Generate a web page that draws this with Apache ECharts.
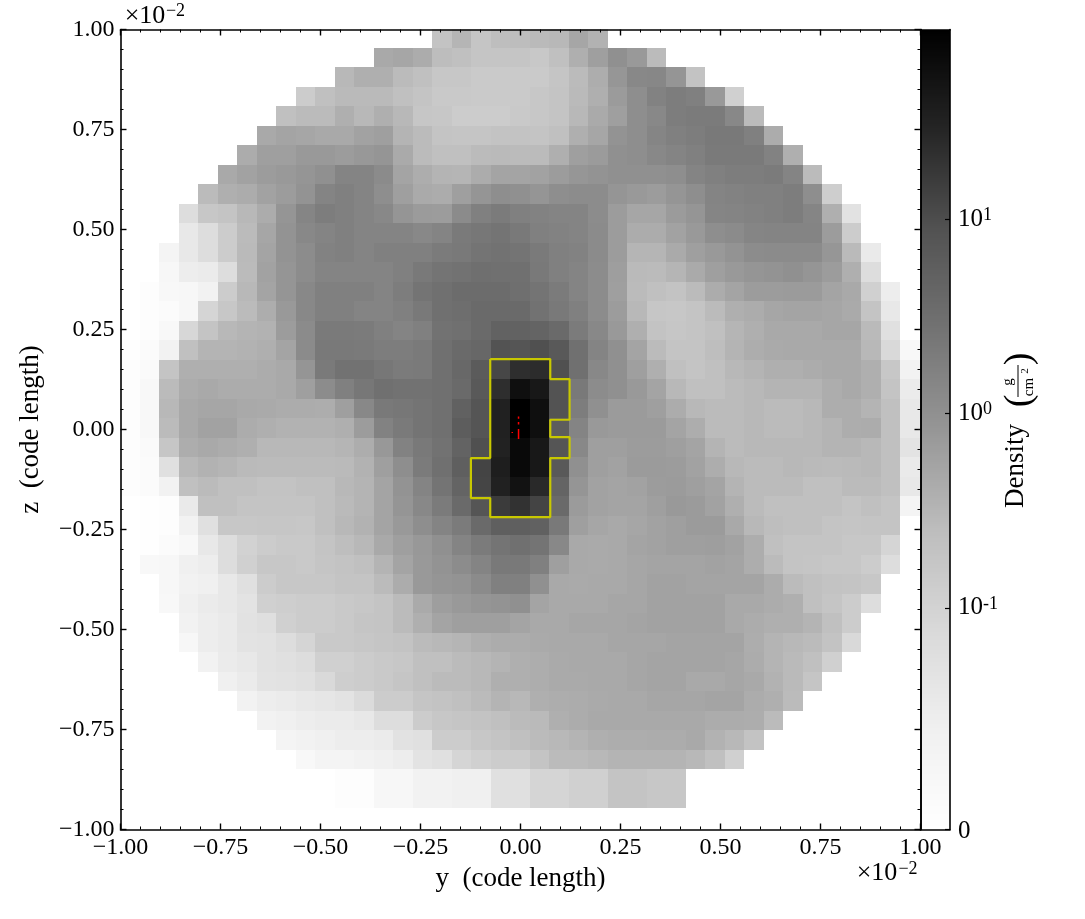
<!DOCTYPE html>
<html><head><meta charset="utf-8">
<style>html,body{margin:0;padding:0;background:#fff}#c{width:1085px;height:919px}</style>
<script src="https://cdn.jsdelivr.net/npm/echarts@6/dist/echarts.min.js"></script>
</head><body><div id="c"></div>
<script>
// rowStart[r] is the first column that holds data in row r (row 0 is the top one).
const rowStart = [16,13,11,9,8,7,6,5,4,3,3,2,2,1,1,1,0,0,0,0,0,0,0,0,0,1,1,1,2,2,3,3,4,5,6,7,8,9,11,11];
const rowValues = [
[35,40,34,37,37.5,38.5,39,45,41],
[44,45,43,37.5,36,34,34,34,32.6,36,42,47,52,49,38],
[39,42,42,38,36,33,33,31.5,31.5,31.5,31.5,34,38,42.5,50,55,55.5,50.5,35],
[31,36,38.5,38.5,38.5,36,34.5,32,32,31.5,31.5,31.5,33,34.5,38.5,42,48.5,53,57,59,58,49,29],
[36,38,38,42,39,42,39,33.5,33,31,31,31,32,33,34.5,39,43.5,47,53,55,59,59.5,59.5,55,38],
[44,45.5,45,44,44,46,47,40.5,38,34.5,34,34,35,35,34.5,36,42,45,51,53,56,58,59,60.5,60.5,58,43],
[43,47,47,49,49,48,49.5,50.5,43.5,38,36,36,38,38.5,38,38,42,47,48.5,52,53,55,56.5,58,60,60,60,57,42],
[44,46,48,49,50.5,52,56.5,56.5,54,45.5,42.5,40.5,40,43,45.5,45.5,46,48,50,51,52,52,52,53,56.5,58,59,59,59.5,56.5,38],
[38,42,43,46,48,51,56.5,58,56.5,53,47,43.5,43,47,50.5,53,52,50.5,53,53.5,53.5,50.5,49,48,50.5,53,56.5,57,58,58,59,53,30],
[23,33,34.5,39,43,50.5,56,59,58,56.5,55,50.5,48.5,48,54,58,59.5,58,57,56.5,56.5,53.5,48,45,45,48.5,50.5,56,56.5,57,58,59,56,42,20],
[17,23,31,38,45,51,55,56.5,58,56.5,56.5,56.5,55,56.5,60,61,62,60.5,58,57,56.5,54,48,43,43,46,49,53,54,56,56.5,56.5,56.5,48,31],
[9,17,23,31,38.5,45.5,51,53.5,57,58,56.5,58,58,58,59.5,60.5,62,63,62,60,58,57,54,48,40,40,43.5,47,49,51,53.5,54,54,54,50,38.5,16],
[7,14,15,23,38,46,50.5,53.5,56.5,56.5,56.5,56.5,58,60.5,62,63,64,63.5,63.5,60.5,58,56.5,53.5,47.5,38.5,38,40,43.5,47,49,50.5,51,52,50.5,48,42,23],
[2,6,7,11,31,39,45.5,50.5,55,58,58,58,56.5,59,62,63.5,65,65,65,64,62,59.5,56.5,53.5,47,38,36,35,38,43,45.5,48,48,48.5,48.5,45.5,44,29,14],
[2,3,7,27,33,38,42.5,49,55,58,58,56.5,56.5,58,60.5,63.5,64.5,66,66,66,63,60.5,58,53.5,48,39,33.5,33,34.5,38,42,43,45,45.5,45.5,45,43.5,34.5,17],
[2,6,26,34.5,39,40.5,41,48,54,60,60,59.5,58,56.5,58,63,63.5,66,69,69,68,66,59.5,55,49,42,35,33.5,34.5,36,40,42,44,44,44,45,45,38.5,21],
[1,3,11,36,40.5,40.5,41,42,45.5,54,60.5,60.5,60,59,59,60,63.5,66,67,74.5,74,75.5,72.5,63.5,56.5,52,45.5,38,34.5,34.5,37,40.5,42.5,43.5,44,44,44,44,39,25,6],
[2,4,34.5,42,42,42,42,43,44,50.5,60,63,63,61,59.5,60,63.5,66.5,71.5,78,85,85.5,75.5,63.5,55,52,47,42,36,34.5,36,39,40.5,42,42,43,44,44,42,33,11],
[2,6,38,43,44,43,43,43,44,47,53.5,58,61,63.5,63,63,63.5,66,72.5,85,95,92,74.5,60.5,53.5,52,49,45.5,39,36,36,38,39,40.5,40.5,40.5,42.5,44,42,34.5,15],
[2,6,39,44,45,45,44,43.5,43,43,42.5,47,55,60.5,61,62,63.5,69.5,74,89,100,95,74.5,59,52,48.5,48.5,47,43,39,38,38,39,38,38,39,42.5,42.5,40.5,36,17],
[2,6,38,44,46,46,43,42,41,41,41,42,48,57,60,62,63.5,71,74,89,100,95,71,56.5,49,48.5,48.5,48.5,45.5,42.5,38,38,39,38,38,39,40.5,42.5,43,36,17],
[2,4,33.5,42.5,44,43,42,39,39,39,39,40,42.5,49.5,57,60.5,63,68.5,75.5,88.5,97,92,74,55,47,47,48,48,47,45.5,40.5,38,39,39,39,39,40.5,40.5,39,36,19.5],
[2,3,21,39,41,40,38.5,38,38,38,38,38.5,41,47,53,59.5,63.5,70,79,90,97,92,72.5,52,47,46,48.5,48.5,48,46,42.5,39,38,38,39,38.5,38,38.5,39,36,16],
[2,3,11,36,38,36,36,35,35,36,36,39,40.5,45.5,51,56.5,62,68,78.5,89,94,86.5,68,50.5,46,45.5,46,48,48.5,47,45.5,40.5,38,38,38,36,36,38,38,36,17],
[0,1,2,16,36,36,34.5,34.5,34.5,34.5,36,38.5,40.5,45.5,50.5,55,59.5,66,74,81.5,84,79,66,48.5,46,45.5,45.5,47,49,48.5,46,42,38,36,36,36,36,34.5,36,34.5,9],
[1,2,11,21,33,33,33.5,33.5,33,36,39,41,45.5,49,53,56.5,59.5,66,70,70,69.5,60.5,47,45,44,45,46,47,48.5,48.5,44,39,37,36,36,34.5,34,34.5,34.5],
[1,3,6,17,23,28,31,32,32,34.5,37,39,44,47,49.5,52,56.5,59.5,62,63.5,62,55,44,43.5,44,45.5,46,47,47,47.5,46,42.5,36,34.5,34.5,34.5,33,33,27],
[6,7,12.5,14,23,29,33,33,32,34,35,36,40.5,45.5,49,51,53.5,56.5,60.5,60.5,58,47,44,43.5,44,45,45.5,45.5,45.5,46,45.5,42.5,38,34.5,34,33,33,31,23],
[7,11,12.5,17,21,31,33,33,33,34.5,34.5,38,43,49,50.5,51,54,58,58,52,44,43.5,44,44,45,46,46,45.5,45.5,45.5,45.5,43,38,36,35,34.5,33],
[6,12.5,15,17,19.5,29,30,31,31,32,33,34.5,38,43.5,47.5,49,50.5,51,52,45.5,44,44,44,45,45,46,46,46,46,44,44,43,42,36,34,31,23],
[11,14,16,20,22,29,31,31,32,34,34.5,38,42,45.5,47,47,47,45.5,44,44,45,45,45,45.5,46,46,46,46,44,43,42,42,40.5,36,31],
[7,14,16,19.5,20,23,27,32,32,33,34,35,38,39,40,42,43,43,43.5,44,44,44,45,45,45,45.5,45.5,45.5,45.5,42.5,40.5,39,38,35,25],
[11,15,17,20,21,23,29,29,31,32,33,36,36,38,39,40.5,42,42.5,43.5,44,44,44,45,45.5,45.5,45.5,45.5,45,43,40.5,38.5,36,29],
[12.5,15,19.5,20,21,25,30,31,32,34,36,38,38,39,42,42,42.5,43.5,43.5,44,44,45,45.5,45.5,44,44,45,44,41,38.5,34],
[11,14,15,17,18,19.5,24,31,31,34,35,36,38,40.5,39,42,42.5,43,43.5,44,44,45,45,45,45.5,45.5,43,42,38],
[11,12.5,14,15,15,17,23,23,31,33,34,35,36,38,38.5,42,43,44,44,44,44,44,44,43,43,42.5,38],
[9,11,12.5,14,14,15,20,21,31,31,33,34.5,36,38,39,40.5,42,42.5,42.5,43,43,44,41,39,35],
[6,9,9,11,12.5,14,19.5,21,27,29,31,31,34.5,38,38,39,40.5,40.5,40.5,40.5,39,36,29],
[2,2,7,7,11,11,12.5,12.5,21,21,27,27,29,29,34.5,34.5,33,33],
[2,2,7,7,11,11,12.5,12.5,21,21,27,27,29,29,34.5,34.5,33,33]
];
// Yellow clump outline and red particle marks, in units of 1e-2 code length
const clumpY = [-0.0757,0.0744,0.0744,0.1227,0.1227,0.0744,0.0744,0.1227,0.1227,0.0744,0.0744,-0.0757,-0.0757,-0.124,-0.124,-0.0757,-0.0757];
const clumpZ = [0.176,0.176,0.126,0.126,0.0244,0.0244,-0.0189,-0.0189,-0.0714,-0.0714,-0.219,-0.219,-0.1715,-0.1715,-0.0714,-0.0714,0.176];
const particleTracks = [
 [[-0.0049,0.0326],[-0.0049,0.0268]],
 [[-0.0049,0.0185],[-0.0049,0.0127]],
 [[-0.0049,0.0012],[-0.0049,-0.0238]],
 [[-0.0206,-0.0062],[-0.0206,-0.0088]]
];
const axisTicks = [-1,-0.75,-0.5,-0.25,0,0.25,0.5,0.75,1];
const colorbarTickDensity = [0,0.1,1,10];
const colorbarTickLabels = ['{z|0}','{b|10}{n|-1}','{b|10}{s|0}','{b|10}{s|1}'];
const greys = [255,240,217,189,150,115,82,37,0]; // colour map stops, evenly spaced

// mesh geometry, code length x 1e-2
const cellSpan = 0.04875, colEdge0 = -1.00125, rowEdge0 = 1.00325;
const FONT = '"Liberation Serif"';
function grey(pos){
  const t = Math.max(0,Math.min(1,pos/100))*(greys.length-1);
  const i = Math.min(greys.length-2,Math.floor(t));
  const g = Math.round(greys[i]+(greys[i+1]-greys[i])*(t-i));
  return 'rgb('+g+','+g+','+g+')';
}
function norm(d){ return d<=0.1 ? 277*d : 52+24.3*Math.log10(d); }

const cells = [];
rowValues.forEach((vals,r)=>vals.forEach((v,i)=>{
  const c = rowStart[r]+i;
  cells.push([colEdge0+c*cellSpan, rowEdge0-r*cellSpan, colEdge0+(c+1)*cellSpan, rowEdge0-(r+1)*cellSpan, v]);
}));
const barCells = [];
for(let p=0;p<400;p++) barCells.push([0,p/4,1,(p+1)/4,(p+0.5)/4]);

function rectItem(params,api){
  const a = api.coord([api.value(0),api.value(1)]), b = api.coord([api.value(2),api.value(3)]);
  const x0 = Math.round(Math.min(a[0],b[0])), x1 = Math.round(Math.max(a[0],b[0]));
  const y0 = Math.round(Math.min(a[1],b[1])), y1 = Math.round(Math.max(a[1],b[1]));
  return {type:'rect',shape:{x:x0,y:y0,width:x1-x0,height:y1-y0},style:{fill:grey(api.value(4))}};
}
const lineStyle = {color:'#000',width:1.6};
const tickFmt = v => (v<0?'\u2212':'')+Math.abs(v).toFixed(2);
const baseAxis = {
  type:'value',min:-1,max:1,interval:0.25,z:10,
  axisLine:{show:true,onZero:false,lineStyle},
  axisTick:{show:true,inside:true,length:6,lineStyle:{color:'#000',width:1.4}},
  minorTick:{show:true,splitNumber:5,length:3,lineStyle:{color:'#000',width:1}},
  splitLine:{show:false},minorSplitLine:{show:false}
};
const labelStyle = {show:true,color:'#000',fontFamily:FONT,fontSize:24,formatter:tickFmt,showMinLabel:true,showMaxLabel:true};
const noLabel = {show:false};
const nameText = {color:'#000',fontFamily:FONT,fontSize:27};
const frameAxis = {gridIndex:1,type:'value',min:0,max:1,z:10,axisLine:{show:true,onZero:false,lineStyle},axisTick:{show:false},axisLabel:{show:false},splitLine:{show:false}};

function gText(x,y,text,size,rot,extra){
  return Object.assign({type:'text',x:x,y:y,rotation:rot||0,z:20,
    style:{text:text,fontFamily:FONT,fontSize:size,fill:'#000',align:'center',verticalAlign:'middle'}},extra||{});
}
const chart = echarts.init(document.getElementById('c'),null,{renderer:'canvas'});
chart.setOption({
  animation:false,backgroundColor:'#fff',
  grid:[
    {left:120.5,top:29.5,width:800,height:800},
    {left:920.5,top:29.5,width:29.5,height:800}
  ],
  xAxis:[
    Object.assign({},baseAxis,{gridIndex:0,position:'bottom',axisLabel:Object.assign({},labelStyle,{margin:6}),
      name:'y  (code length)',nameLocation:'middle',nameGap:36,nameTextStyle:nameText}),
    Object.assign({},baseAxis,{gridIndex:0,position:'top',axisLabel:noLabel}),
    Object.assign({},frameAxis,{position:'bottom'}),
    Object.assign({},frameAxis,{position:'top'})
  ],
  yAxis:[
    Object.assign({},baseAxis,{gridIndex:0,position:'left',axisLabel:Object.assign({},labelStyle,{margin:6,padding:[3,0,0,0]}),
      name:'z  (code length)',nameLocation:'middle',nameGap:76,nameTextStyle:nameText}),
    Object.assign({},baseAxis,{gridIndex:0,position:'right',axisLabel:noLabel}),
    {gridIndex:1,type:'value',min:0,max:100,position:'right',z:10,
      axisLine:{show:true,onZero:false,lineStyle},
      splitLine:{show:false},
      axisTick:{show:true,inside:true,length:5,customValues:colorbarTickDensity.map(norm),lineStyle:{color:'#000',width:1.2}},
      axisLabel:{show:true,margin:8,customValues:colorbarTickDensity.map(norm),
        formatter:(v)=>colorbarTickLabels[colorbarTickDensity.map(norm).findIndex(p=>Math.abs(p-v)<1e-6)],
        rich:{
          z:{fontFamily:FONT,fontSize:25,color:'#000',lineHeight:26,padding:[4,0,0,0]},
          b:{fontFamily:FONT,fontSize:25,color:'#000',lineHeight:26},
          s:{fontFamily:FONT,fontSize:18,color:'#000',verticalAlign:'top',lineHeight:18},
          n:{fontFamily:FONT,fontSize:18,color:'#000',verticalAlign:'top',lineHeight:18}
        }}
    },
    Object.assign({},frameAxis,{min:0,max:100,position:'left'})
  ],
  series:[
    {type:'custom',xAxisIndex:0,yAxisIndex:0,clip:true,silent:true,z:1,data:cells,
      encode:{x:[0,2],y:[1,3]},renderItem:rectItem},
    {type:'line',xAxisIndex:0,yAxisIndex:0,z:5,silent:true,symbol:'none',
      data:clumpY.map((y,i)=>[y,clumpZ[i]]),lineStyle:{color:'#c8c800',width:2.2}},
  ].concat(particleTracks.map(t=>({type:'line',xAxisIndex:0,yAxisIndex:0,z:6,silent:true,symbol:'none',
      data:t,lineStyle:{color:'#ff0000',width:1.5}}))).concat([
    {type:'custom',xAxisIndex:2,yAxisIndex:2,clip:true,silent:true,z:1,data:barCells,
      encode:{x:[0,2],y:[1,3]},renderItem:rectItem}
  ]),
  graphic:{elements:[
    gText(145,16.5,'\u00d710',26),
    gText(175.5,11,'\u22122',18),
    gText(877,873,'\u00d710',26),
    gText(908,869,'\u22122',18),
    gText(1016,466,'Density',27,Math.PI/2),
    gText(1020,401,'(',38,Math.PI/2),
    gText(1020,359,')',38,Math.PI/2),
    gText(1008,382,'g',15,Math.PI/2),
    {type:'rect',z:20,shape:{x:1017.5,y:365,width:1,height:32},style:{fill:'#000'}},
    gText(1029,387,'cm',15,Math.PI/2),
    gText(1025,371,'2',11,Math.PI/2)
  ]}
});
</script></body></html>
